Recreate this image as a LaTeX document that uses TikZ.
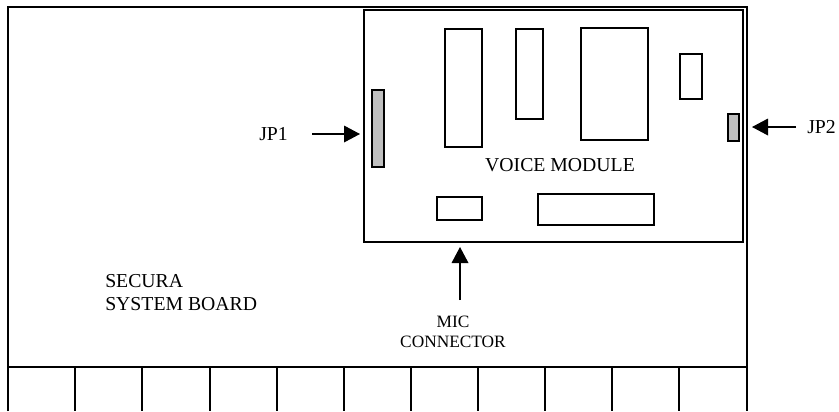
\documentclass[tikz,border=0pt]{standalone}
\usepackage{fontspec}
\setmainfont{Liberation Serif}
\usetikzlibrary{arrows.meta}
\tikzset{
  px/.style={x=0.75pt,y=-0.75pt},
  partbox/.style={draw=black,line width=1.1pt,fill=white,anchor=north west,inner sep=0pt,outer sep=0pt},
  jumper/.style={partbox,fill=black!25},
  boardline/.style={draw=black,line width=1.1pt},
  arr/.style={draw=black,line width=1pt,-{Triangle[length=12pt,width=12.5pt]}},
  lbl/.style={font=\fontsize{14.8}{17.5}\selectfont,inner sep=0pt,align=left,text=black},
  smalllbl/.style={font=\fontsize{13}{15}\selectfont,inner sep=0pt,align=center,text=black}
}
\newcommand{\partnode}[6]{\node[#1,minimum width=#4*0.75pt,minimum height=#5*0.75pt] (#6) at (#2,#3) {};}
\begin{document}
\begin{tikzpicture}[px]
\useasboundingbox (0,0) rectangle (839,411);
\coordinate (boardBL) at (8,411);
\coordinate (boardTL) at (8,7);
\coordinate (boardTR) at (747,7);
\coordinate (boardBR) at (747,411);
\draw[boardline,line cap=butt] (boardBL) -- (boardTL) -- (boardTR) -- (boardBR);
\coordinate (stripL) at (8,367);
\coordinate (stripR) at (747,367);
\draw[boardline] (stripL) -- (stripR);
\foreach \tx in {75,142,210,277,344,411,478,545,612,679}{
  \coordinate (tabT\tx) at (\tx,367);
  \coordinate (tabB\tx) at (\tx,411);
  \draw[boardline] (tabT\tx) -- (tabB\tx);
}
\partnode{partbox}{364}{10}{379}{232}{module}
\partnode{partbox}{445}{29}{37}{118}{ica}
\partnode{partbox}{516}{29}{27}{90}{icb}
\partnode{partbox}{581}{28}{67}{112}{icc}
\partnode{partbox}{680}{54}{22}{45}{icd}
\partnode{partbox}{437}{197}{45}{23}{ice}
\partnode{partbox}{538}{194}{116}{31}{icf}
\partnode{jumper}{372}{90}{12}{77}{jpa}
\partnode{jumper}{728}{114}{11}{27}{jpb}
\node[lbl,anchor=center] (vm) at (560,165) {VOICE MODULE};
\node[lbl,anchor=west] (jpalbl) at (259,134) {JP1};
\node[lbl,anchor=west] (jpblbl) at (807,127) {JP2};
\node[lbl,anchor=north west] (sb) at (105,274) {SECURA\\SYSTEM BOARD};
\node[smalllbl,anchor=north] (mic) at (453,316) {MIC\\CONNECTOR};
\coordinate (a1s) at (312,134); \coordinate (a1e) at (360,134);
\coordinate (a2s) at (796,127); \coordinate (a2e) at (752,127);
\coordinate (a3s) at (460,300); \coordinate (a3e) at (460,247);
\draw[arr] (a1s) -- (a1e);
\draw[arr] (a2s) -- (a2e);
\draw[arr] (a3s) -- (a3e);
\end{tikzpicture}
\end{document}
